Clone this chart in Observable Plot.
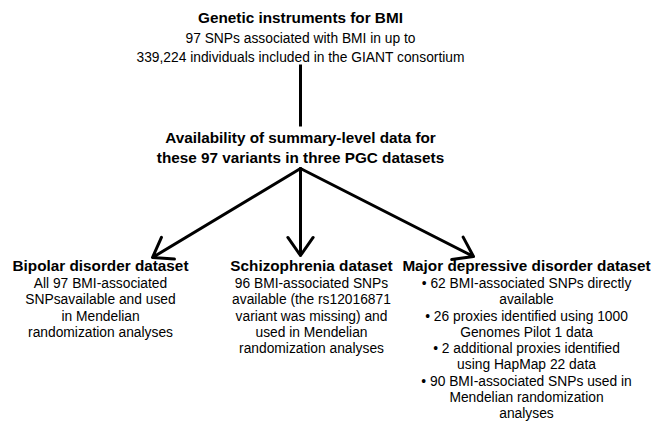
<!DOCTYPE html>
<html><head><meta charset="utf-8">
<script src="https://cdn.jsdelivr.net/npm/d3@7"></script>
<script src="https://cdn.jsdelivr.net/npm/@observablehq/plot@0.6"></script>
<style>body{margin:0;background:#fff}</style>
</head><body><div id="chart"></div>
<script>
// Text content
const topTitle = "Genetic instruments for BMI";
const topLines = ["97 SNPs associated with BMI in up to", "339,224 individuals included in the GIANT consortium"];
const midLines = ["Availability of summary-level data for", "these 97 variants in three PGC datasets"];
const datasetTitles = ["Bipolar disorder dataset", "Schizophrenia dataset", "Major depressive disorder dataset"];
const bipolarLines = ["All 97 BMI-associated", "SNPsavailable and used", "in Mendelian", "randomization analyses"];
const schizoLines = ["96 BMI-associated SNPs", "available (the rs12016871", "variant was missing) and", "used in Mendelian", "randomization analyses"];
const mddLines = ["• 62 BMI-associated SNPs directly", "available", "• 26 proxies identified using 1000", "Genomes Pilot 1 data", "• 2 additional proxies identified", "using HapMap 22 data", "• 90 BMI-associated SNPs used in", "Mendelian randomization", "analyses"];

// Layout
const W = 654, H = 424;
const topX = 300;
const colX = [100, 311, 526];
const tipX = [152, 300, 473];
const tipY = [257, 255, 256];
const apex = {x: 300, y: 168};
const step = 16.3;

const bold = [], plain = [];
bold.push({t: topTitle, x: topX, y: 18});
topLines.forEach((t, i) => plain.push({t, x: topX, y: 38 + i * 19}));
midLines.forEach((t, i) => bold.push({t, x: topX, y: 138 + i * 20}));
const bodies = [bipolarLines, schizoLines, mddLines];
datasetTitles.forEach((t, c) => {
  bold.push({t, x: colX[c], y: 266});
  bodies[c].forEach((s, i) => plain.push({t: s, x: colX[c], y: 283 + i * step}));
});
const arrows = tipX.map((x, i) => ({x1: apex.x, y1: apex.y, x2: x, y2: tipY[i]}));
const connector = [{x1: topX, y1: 64, x2: topX, y2: 126}];

const chart = Plot.plot({
  width: W, height: H,
  margin: 0,
  x: {domain: [0, W], range: [0, W], axis: null},
  y: {domain: [0, H], range: [0, H], axis: null},
  style: {fontFamily: "'Liberation Sans', Arial, sans-serif", background: "#fff"},
  marks: [
    Plot.link(connector, {x1: "x1", y1: "y1", x2: "x2", y2: "y2", stroke: "#000", strokeWidth: 3}),
    Plot.arrow(arrows, {x1: "x1", y1: "y1", x2: "x2", y2: "y2", stroke: "#000", strokeWidth: 3, headLength: 11, headAngle: 70}),
    Plot.text(bold, {x: "x", y: "y", text: "t", fontSize: 15.3, fontWeight: "bold", fill: "#000"}),
    Plot.text(plain, {x: "x", y: "y", text: "t", fontSize: 13.8, fill: "#000"})
  ]
});
document.getElementById("chart").append(chart);
</script></body></html>
